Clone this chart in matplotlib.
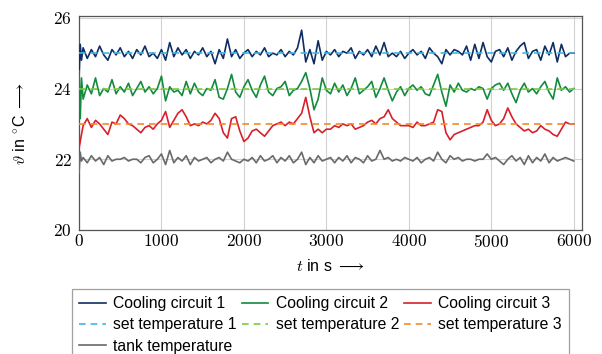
import numpy as np
import matplotlib
matplotlib.use("Agg")
import matplotlib.pyplot as plt
from matplotlib.ticker import FuncFormatter

plt.rcParams['font.family'] = ['Liberation Sans', 'DejaVu Sans']
plt.rcParams['mathtext.fontset'] = 'cm'

# ---------------- data ----------------
time = np.array([0, 15, 30] + list(range(50, 6001, 50)))

circuit1 = [24.3, 25.25, 24.8,
    25.15, 24.85, 25.1, 24.9, 25.2, 24.95, 24.8, 25.1, 24.95, 25.15, 24.9, 25.05, 24.85, 25.1, 24.95, 25.2, 24.9, 25.0, 24.85, 25.1,
    24.8, 25.3, 24.9, 25.15, 24.95, 25.1, 24.85, 25.05, 24.95, 25.15, 24.9, 25.05, 24.7, 25.1, 24.85, 25.4, 24.9, 25.1, 24.85, 25.0,
    25.1, 24.9, 25.05, 24.95, 25.15, 24.9, 25.0, 24.95, 25.1, 24.9, 25.05, 24.95, 25.15, 25.65, 24.75, 25.1, 24.7, 25.35, 24.8, 25.05,
    24.95, 25.1, 24.9, 25.05, 25.0, 25.15, 24.85, 25.05, 24.95, 25.1, 24.9, 25.2, 24.95, 25.3, 24.9, 25.0, 24.9, 25.05, 24.85, 25.0,
    25.1, 24.95, 25.05, 24.85, 25.15, 25.0, 24.9, 24.7, 25.1, 24.95, 25.1, 25.05, 24.95, 25.2, 24.8, 25.25, 24.85, 25.3, 24.9, 24.75,
    25.05, 25.1, 24.9, 25.15, 24.8, 25.05, 25.2, 25.3, 24.85, 25.05, 25.1, 24.8, 25.2, 24.95, 25.3, 24.75, 25.25, 24.9, 25.0, 25.0]

circuit2 = [24.5, 23.15, 24.3,
    23.7, 24.1, 23.85, 24.3, 23.8, 24.0, 23.9, 24.25, 23.85, 24.05, 23.9, 24.15, 23.8, 24.0, 24.2, 23.9, 24.05, 23.85, 24.0, 24.35,
    23.65, 24.05, 23.9, 23.95, 23.8, 24.2, 23.85, 24.15, 23.9, 23.8, 24.0, 23.95, 24.25, 23.75, 23.7, 24.0, 24.4, 23.9, 23.75, 24.05,
    24.25, 23.95, 23.75, 24.1, 24.35, 23.9, 23.8, 24.0, 24.05, 24.2, 23.8, 23.95, 24.0, 24.2, 24.45, 24.0, 23.4, 23.7, 24.3, 23.95,
    23.85, 24.15, 23.9, 24.1, 23.8, 24.0, 24.3, 23.85, 23.95, 24.05, 24.2, 23.75, 24.0, 24.3, 23.95, 23.65, 23.9, 24.05, 23.8, 24.0,
    24.1, 23.95, 24.05, 23.85, 23.8, 24.1, 24.4, 23.9, 23.5, 24.1, 23.9, 24.15, 23.95, 23.9, 24.0, 23.95, 24.05, 24.0, 23.7, 24.0,
    24.1, 24.15, 23.95, 24.15, 23.85, 23.6, 23.95, 24.15, 23.9, 24.0, 23.85, 24.05, 24.2, 23.9, 23.7, 24.3, 23.95, 24.05, 23.9, 24.0]

circuit3 = [22.3, 22.5, 22.7,
    22.95, 23.15, 22.9, 23.1, 23.0, 22.85, 22.7, 23.05, 23.0, 23.25, 23.15, 23.0, 22.95, 22.85, 22.75, 22.9, 22.95, 22.85, 23.0, 23.1,
    23.35, 22.9, 23.1, 23.3, 23.4, 23.2, 22.95, 23.0, 22.95, 23.05, 23.0, 23.1, 23.3, 23.15, 22.75, 22.6, 23.15, 23.2, 22.8, 22.5,
    22.6, 22.8, 22.85, 22.75, 22.65, 22.8, 22.95, 23.0, 23.05, 22.95, 23.05, 23.0, 23.15, 23.3, 23.75, 23.2, 22.75, 22.85, 22.75, 22.85,
    22.85, 22.95, 22.9, 23.0, 22.95, 23.0, 22.85, 22.9, 22.95, 23.05, 23.1, 23.0, 23.15, 23.2, 23.4, 23.15, 23.05, 22.95, 22.95, 22.95,
    22.9, 23.05, 22.95, 22.95, 23.0, 23.05, 23.4, 23.35, 22.75, 22.55, 22.7, 22.75, 22.8, 22.85, 22.9, 22.95, 22.95, 23.05, 23.4, 23.1,
    22.95, 23.0, 23.15, 23.45, 23.2, 23.0, 22.9, 22.8, 22.85, 22.75, 22.8, 22.95, 22.85, 22.8, 22.7, 22.65, 22.85, 23.05, 23.0, 23.0]

tank = [21.6, 22.2, 21.95,
    22.05, 21.9, 22.1, 21.95, 22.05, 21.85, 22.1, 21.95, 22.0, 22.0, 22.05, 21.95, 22.0, 22.0, 21.9, 22.05, 22.1, 21.9, 22.0, 22.15,
    21.85, 22.25, 21.9, 22.05, 21.95, 22.1, 21.85, 22.05, 21.95, 22.0, 22.05, 21.9, 22.0, 22.05, 21.95, 22.2, 22.0, 21.95, 21.9, 22.0,
    21.95, 22.05, 21.9, 22.1, 21.95, 22.0, 22.1, 21.9, 22.05, 21.95, 22.1, 21.9, 22.0, 22.2, 21.85, 22.05, 21.9, 22.1, 21.95, 22.0,
    22.05, 21.9, 22.05, 21.95, 22.1, 21.9, 22.05, 22.0, 21.9, 22.1, 21.95, 22.0, 22.25, 22.0, 22.05, 21.95, 22.0, 21.95, 22.05, 22.0,
    21.95, 22.05, 21.9, 22.0, 22.05, 21.95, 22.2, 22.0, 21.9, 22.1, 22.0, 22.05, 21.95, 22.0, 22.0, 21.95, 22.0, 22.0, 22.15, 22.0,
    22.05, 21.95, 21.85, 22.0, 22.1, 21.95, 22.05, 21.85, 22.1, 21.9, 22.05, 21.95, 22.15, 21.9, 22.05, 21.95, 22.0, 22.05, 22.0, 21.95]

set_temps = [25, 24, 23]
series_labels = ["Cooling circuit 1", "Cooling circuit 2", "Cooling circuit 3"]
set_labels = ["set temperature 1", "set temperature 2", "set temperature 3"]
tank_label = "tank temperature"
x_ticks = [0, 1000, 2000, 3000, 4000, 5000, 6000]
y_ticks = [20, 22, 24, 26]

line_colors = ["#0f2d62", "#138a3e", "#d7202a"]
set_colors = ["#3db7e8", "#7ccb3f", "#f28a2b"]
tank_color = "#6a6a6a"

# ---------------- figure ----------------
fig = plt.figure(figsize=(6.02, 3.54), dpi=100)
ax = fig.add_axes([79/602, 1-230/354, (582-79)/602, (230-16)/354])

handles = {}
for vals, lab, col in zip([circuit1, circuit2, circuit3], series_labels, line_colors):
    handles[lab], = ax.plot(time, vals, color=col, lw=1.2, zorder=3)
for st, lab, col in zip(set_temps, set_labels, set_colors):
    handles[lab], = ax.plot([time[0], time[-1]], [st, st], color=col, lw=1.2,
                            dashes=(4, 3), zorder=4)
handles[tank_label], = ax.plot(time, tank, color=tank_color, lw=1.2, zorder=3)

ax.set_xlim(0, 6100)
ax.set_ylim(20, 26.05)
ax.set_xticks(x_ticks)
ax.set_yticks(y_ticks)
fmt = FuncFormatter(lambda v, p: r"$%d$" % v)
ax.xaxis.set_major_formatter(fmt)
ax.yaxis.set_major_formatter(fmt)
ax.tick_params(length=0, labelsize=12.5)
ax.tick_params(axis='x', pad=2)
ax.tick_params(axis='y', pad=5)
ax.grid(True, color="#d2d2d2", lw=0.8)
ax.set_axisbelow(True)
for sp in ax.spines.values():
    sp.set_color("#555555")
    sp.set_linewidth(0.9)

ax.set_xlabel(r"$t$ in s $\longrightarrow$", fontsize=11.5, labelpad=6)
ax.set_ylabel(r"$\vartheta$ in $^{\circ}$C $\longrightarrow$", fontsize=11.5, labelpad=18)

order = [series_labels[0], set_labels[0], tank_label,
         series_labels[1], set_labels[1],
         series_labels[2], set_labels[2]]
leg = fig.legend([handles[k] for k in order], order, ncol=3,
                 loc="upper left", bbox_to_anchor=(72/602, 1-289/354),
                 fontsize=11.3, frameon=True, fancybox=False,
                 edgecolor="#888888", handlelength=1.7, handletextpad=0.45,
                 columnspacing=0.35, labelspacing=0.4, borderpad=0.45,
                 borderaxespad=0)
leg.get_frame().set_linewidth(0.9)

fig.savefig("out.png", dpi=100)
